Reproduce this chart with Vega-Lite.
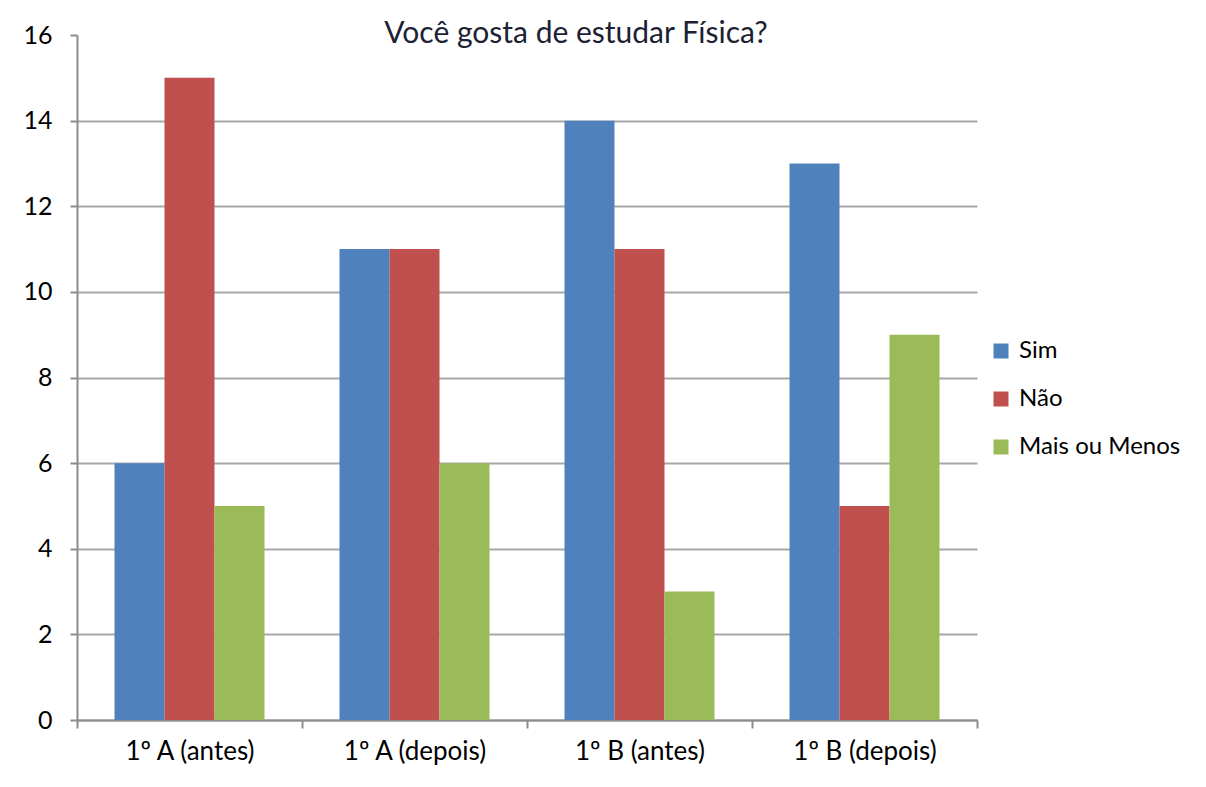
{
  "$schema": "https://vega.github.io/schema/vega-lite/v6.json",
  "width": 900,
  "height": 685,
  "autosize": "none",
  "padding": {"left": 77, "top": 35, "right": 229, "bottom": 67},
  "background": "white",
  "title": {
    "text": "Você gosta de estudar Física?",
    "font": "Lato",
    "fontSize": 30,
    "fontWeight": "normal",
    "color": "#1c2233",
    "anchor": "middle",
    "dx": 49,
    "offset": 0,
    "dy": 50,
    "baseline": "alphabetic"
  },
  "data": {
    "values": [
      {"turma": "1º A (antes)", "resposta": "Sim", "valor": 6},
      {"turma": "1º A (antes)", "resposta": "Não", "valor": 15},
      {"turma": "1º A (antes)", "resposta": "Mais ou Menos", "valor": 5},
      {"turma": "1º A (depois)", "resposta": "Sim", "valor": 11},
      {"turma": "1º A (depois)", "resposta": "Não", "valor": 11},
      {"turma": "1º A (depois)", "resposta": "Mais ou Menos", "valor": 6},
      {"turma": "1º B (antes)", "resposta": "Sim", "valor": 14},
      {"turma": "1º B (antes)", "resposta": "Não", "valor": 11},
      {"turma": "1º B (antes)", "resposta": "Mais ou Menos", "valor": 3},
      {"turma": "1º B (depois)", "resposta": "Sim", "valor": 13},
      {"turma": "1º B (depois)", "resposta": "Não", "valor": 5},
      {"turma": "1º B (depois)", "resposta": "Mais ou Menos", "valor": 9}
    ]
  },
  "mark": {"type": "bar"},
  "encoding": {
    "x": {
      "field": "turma",
      "type": "nominal",
      "sort": null,
      "scale": {"paddingInner": 0, "paddingOuter": 0},
      "axis": {
        "title": null,
        "labelAngle": 0,
        "labelFont": "Lato",
        "labelFontSize": 26,
        "labelColor": "#000000",
        "tickBand": "extent",
        "tickSize": 8,
        "tickColor": "#8c8c8c",
        "domainColor": "#8c8c8c",
        "tickWidth": 2,
        "domainWidth": 2,
        "labelPadding": 10,
        "labelLimit": 300,
        "grid": false
      }
    },
    "xOffset": {
      "field": "resposta",
      "type": "nominal",
      "sort": ["Sim", "Não", "Mais ou Menos"],
      "scale": {"paddingInner": 0, "paddingOuter": 0.75}
    },
    "y": {
      "field": "valor",
      "type": "quantitative",
      "scale": {"domain": [0, 16], "nice": false},
      "axis": {
        "title": null,
        "values": [0, 2, 4, 6, 8, 10, 12, 14, 16],
        "labelFont": "Lato",
        "labelFontSize": 25,
        "labelColor": "#000000",
        "grid": true,
        "gridColor": "#a8a8a8",
        "gridWidth": 2,
        "gridOpacity": {"condition": {"test": "datum.value === 16", "value": 0}, "value": 1},
        "tickSize": 7,
        "tickColor": "#8c8c8c",
        "tickWidth": 2,
        "domainColor": "#8c8c8c",
        "domainWidth": 2,
        "labelPadding": 18
      }
    },
    "color": {
      "field": "resposta",
      "type": "nominal",
      "sort": ["Sim", "Não", "Mais ou Menos"],
      "scale": {
        "domain": ["Sim", "Não", "Mais ou Menos"],
        "range": ["#4f81bd", "#c0504d", "#9bbb59"]
      },
      "legend": {
        "title": null,
        "orient": "none",
        "legendX": 912,
        "legendY": 304,
        "labelFont": "Lato",
        "labelFontSize": 24,
        "labelColor": "#000000",
        "labelLimit": 300,
        "symbolType": "square",
        "symbolSize": 225,
        "symbolStrokeWidth": 0,
        "rowPadding": 24,
        "labelOffset": 6
      }
    }
  },
  "config": {
    "view": {"stroke": null}
  }
}
